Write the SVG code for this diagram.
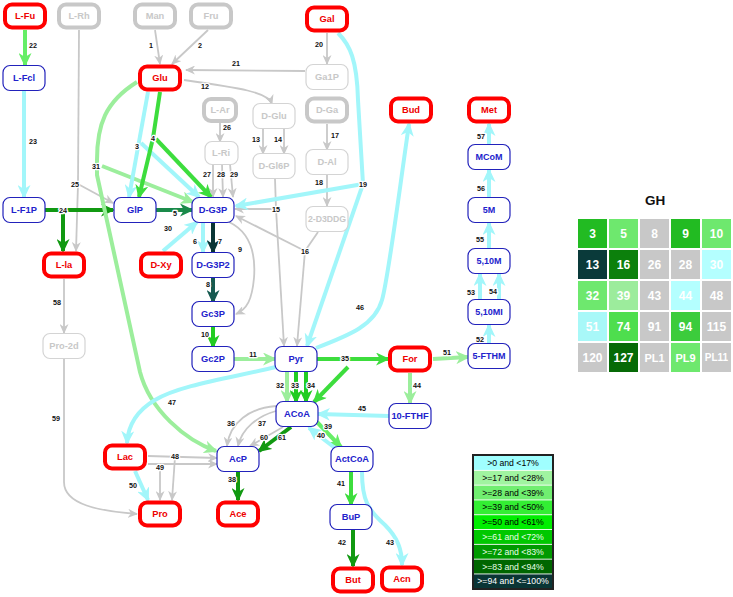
<svg xmlns="http://www.w3.org/2000/svg" width="733" height="597" viewBox="0 0 733 597">
<style>
.r rect{fill:#fff;stroke:#f00;stroke-width:4}
.r text{fill:#e00}
.b rect{fill:#fff;stroke:#2222bb;stroke-width:1.2}
.b text{fill:#2222cc}
.gt rect{fill:#fff;stroke:#c8c8c8;stroke-width:4}
.gn rect{fill:#fff;stroke:#d4d4d4;stroke-width:1.2}
.gt text,.gn text{fill:#c8c8c8}
text{font-family:"Liberation Sans",Arial,sans-serif;font-weight:bold;text-anchor:middle}
.n text{font-size:9.3px}
.lab{font-size:7.2px;fill:#111;stroke:#fff;stroke-width:2.5;paint-order:stroke;stroke-linejoin:round}
.e path{fill:none;stroke-width:4}
.gr{stroke:#c8c8c8!important;stroke-width:1.8!important}
.cy{stroke:#a2f6fa}
.l1{stroke:#9cee9c}
.l2{stroke:#66ee66}
.l3{stroke:#3ddd3d}
.l4{stroke:#22cc22}
.dg{stroke:#119911}
.d5{stroke:#1a8a4a}
.d8{stroke:#165a50}
.d7{stroke:#0a3535}
.hm text{font-size:12px;fill:#fff;dominant-baseline:central}
.lg text{font-size:8.7px;font-weight:normal;dominant-baseline:central}
</style>
<defs>
<marker id="ag" markerUnits="userSpaceOnUse" markerWidth="10" markerHeight="9" refX="9" refY="4.5" orient="auto"><path d="M0,0 L10,4.5 L0,9 L3,4.5 z" fill="#c8c8c8"/></marker>
<marker id="acy" markerUnits="userSpaceOnUse" markerWidth="14" markerHeight="13" refX="12" refY="6.5" orient="auto"><path d="M0,0 L14,6.5 L0,13 L4,6.5 z" fill="#a2f6fa"/></marker>
<marker id="al1" markerUnits="userSpaceOnUse" markerWidth="14" markerHeight="13" refX="12" refY="6.5" orient="auto"><path d="M0,0 L14,6.5 L0,13 L4,6.5 z" fill="#9cee9c"/></marker>
<marker id="al2" markerUnits="userSpaceOnUse" markerWidth="14" markerHeight="13" refX="12" refY="6.5" orient="auto"><path d="M0,0 L14,6.5 L0,13 L4,6.5 z" fill="#66ee66"/></marker>
<marker id="al3" markerUnits="userSpaceOnUse" markerWidth="14" markerHeight="13" refX="12" refY="6.5" orient="auto"><path d="M0,0 L14,6.5 L0,13 L4,6.5 z" fill="#3ddd3d"/></marker>
<marker id="al4" markerUnits="userSpaceOnUse" markerWidth="14" markerHeight="13" refX="12" refY="6.5" orient="auto"><path d="M0,0 L14,6.5 L0,13 L4,6.5 z" fill="#22cc22"/></marker>
<marker id="adg" markerUnits="userSpaceOnUse" markerWidth="14" markerHeight="13" refX="12" refY="6.5" orient="auto"><path d="M0,0 L14,6.5 L0,13 L4,6.5 z" fill="#119911"/></marker>
<marker id="ad5" markerUnits="userSpaceOnUse" markerWidth="14" markerHeight="13" refX="12" refY="6.5" orient="auto"><path d="M0,0 L14,6.5 L0,13 L4,6.5 z" fill="#1a8a4a"/></marker>
<marker id="ad8" markerUnits="userSpaceOnUse" markerWidth="14" markerHeight="13" refX="12" refY="6.5" orient="auto"><path d="M0,0 L14,6.5 L0,13 L4,6.5 z" fill="#165a50"/></marker>
<marker id="ad7" markerUnits="userSpaceOnUse" markerWidth="14" markerHeight="13" refX="12" refY="6.5" orient="auto"><path d="M0,0 L14,6.5 L0,13 L4,6.5 z" fill="#0a3535"/></marker>
</defs>
<rect width="733" height="597" fill="#fff"/>
<g id="edges" class="e">
<path class="gr" d="M155,30 L160,64" marker-end="url(#ag)"/>
<path class="gr" d="M208,30 L172,64" marker-end="url(#ag)"/>
<path class="gr" d="M305,71 L186,70" marker-end="url(#ag)"/>
<path class="gr" d="M184,80 C240,88 268,92 272,104" marker-end="url(#ag)"/>
<path class="gr" d="M327,33 L327,64" marker-end="url(#ag)"/>
<path class="gr" d="M263,128 L263,154" marker-end="url(#ag)"/>
<path class="gr" d="M284,128 L284,154" marker-end="url(#ag)"/>
<path class="gr" d="M327,124 L327,150" marker-end="url(#ag)"/>
<path class="gr" d="M327,174 L327,206" marker-end="url(#ag)"/>
<path class="gr" d="M220,123 L220,142" marker-end="url(#ag)"/>
<path class="gr" d="M213,164 L213,197" marker-end="url(#ag)"/>
<path class="gr" d="M222,164 L223,197" marker-end="url(#ag)"/>
<path class="gr" d="M230,164 L233,197" marker-end="url(#ag)"/>
<path class="gr" d="M275,179 L276,209"/>
<path class="gr" d="M276,209 L235,209" marker-end="url(#ag)"/>
<path class="gr" d="M276,209 L284,346" marker-end="url(#ag)"/>
<path class="gr" d="M318,232 L305,251"/>
<path class="gr" d="M305,251 L236,216" marker-end="url(#ag)"/>
<path class="gr" d="M305,251 L297,346" marker-end="url(#ag)"/>
<path class="gr" d="M229,222 C250,232 256,252 254,278 C252,300 247,309 236,314" marker-end="url(#ag)"/>
<path class="gr" d="M64,279 L64,333" marker-end="url(#ag)"/>
<path class="gr" d="M64,359 L64,482 C64,505 100,511 137,514" marker-end="url(#ag)"/>
<path class="gr" d="M79,30 L78,184"/>
<path class="gr" d="M78,184 L113,203" marker-end="url(#ag)"/>
<path class="gr" d="M78,184 L76,251" marker-end="url(#ag)"/>
<path class="gr" d="M276,406 C250,408 230,422 227,446" marker-end="url(#ag)"/>
<path class="gr" d="M276,411 C258,416 242,428 238,446" marker-end="url(#ag)"/>
<path class="gr" d="M283,427 L250,446" marker-end="url(#ag)"/>
<path class="gr" d="M148,456 L217,458" marker-end="url(#ag)"/>
<path class="gr" d="M175,457 L172,500" marker-end="url(#ag)"/>
<path class="gr" d="M148,464 L217,464" marker-end="url(#ag)"/>
<path class="gr" d="M160,465 L160,500" marker-end="url(#ag)"/>
<path class="l2" d="M25,30 L25,65" marker-end="url(#al2)"/>
<path class="cy" d="M24,91 L24,197" marker-end="url(#acy)"/>
<path class="dg" d="M44,210 L113,210" marker-end="url(#adg)"/>
<path class="dg" d="M63,210 L63,251" marker-end="url(#adg)"/>
<path class="l1" d="M137,82 C105,102 97,125 97,160 L97,175 L140,372 C150,410 185,440 216,451" marker-end="url(#al1)"/>
<path class="l1" d="M102,166 L193,202" marker-end="url(#al1)"/>
<path class="cy" d="M148,92 L129,197" marker-end="url(#acy)"/>
<path class="cy" d="M141,143 L199,197" marker-end="url(#acy)"/>
<path class="l3" d="M160,92 L153,138 L139,197" marker-end="url(#al3)"/>
<path class="l3" d="M156,139 L211,197" marker-end="url(#al3)"/>
<path class="d5" d="M156,210 L192,210" marker-end="url(#ad5)"/>
<path class="cy" d="M163,251 L197,222" marker-end="url(#acy)"/>
<path class="cy" d="M338,33 C350,45 357,60 358,100 L363,184"/>
<path class="cy" d="M363,184 L236,206" marker-end="url(#acy)"/>
<path class="cy" d="M363,184 L307,346" marker-end="url(#acy)"/>
<path class="cy" d="M316,348 C350,335 375,325 382,300 C388,280 398,200 409,124" marker-end="url(#acy)"/>
<path class="cy" d="M203,222 L203,252" marker-end="url(#acy)"/>
<path class="d7" d="M213,222 L213,252" marker-end="url(#ad7)"/>
<path class="d8" d="M213,277 L213,302" marker-end="url(#ad8)"/>
<path class="l4" d="M213,327 L213,347" marker-end="url(#al4)"/>
<path class="l1" d="M234,359 L275,359" marker-end="url(#al1)"/>
<path class="cy" d="M276,367 C230,378 180,385 155,400 C138,410 128,425 127,443" marker-end="url(#acy)"/>
<path class="l3" d="M317,359 L388,359" marker-end="url(#al3)"/>
<path class="l3" d="M348,367 L314,402" marker-end="url(#al3)"/>
<path class="l1" d="M287,372 L287,402" marker-end="url(#al1)"/>
<path class="l4" d="M296,372 L296,402" marker-end="url(#al4)"/>
<path class="l4" d="M306,372 L306,402" marker-end="url(#al4)"/>
<path class="l1" d="M410,373 L410,403" marker-end="url(#al1)"/>
<path class="cy" d="M389,416 L318,414" marker-end="url(#acy)"/>
<path class="l1" d="M433,359 L468,357" marker-end="url(#al1)"/>
<path class="cy" d="M489,343 L489,325" marker-end="url(#acy)"/>
<path class="cy" d="M480,299 L480,274" marker-end="url(#acy)"/>
<path class="cy" d="M499,299 L499,274" marker-end="url(#acy)"/>
<path class="cy" d="M489,248 L489,223" marker-end="url(#acy)"/>
<path class="cy" d="M489,197 L489,170" marker-end="url(#acy)"/>
<path class="cy" d="M489,144 L489,124" marker-end="url(#acy)"/>
<path class="dg" d="M291,427 L259,451" marker-end="url(#adg)"/>
<path class="dg" d="M238,472 L238,500" marker-end="url(#adg)"/>
<path class="l2" d="M316,421 L341,447" marker-end="url(#al2)"/>
<path class="cy" d="M335,448 L309,428" marker-end="url(#acy)"/>
<path class="l3" d="M351,472 L351,505" marker-end="url(#al3)"/>
<path class="dg" d="M353,530 L353,566" marker-end="url(#adg)"/>
<path class="cy" d="M362,472 C362,500 368,510 385,525 C398,538 402,550 402,565" marker-end="url(#acy)"/>
<path class="cy" d="M135,471 L148,500" marker-end="url(#acy)"/>
</g>
<g id="edge-labels">
<text class="lab" x="151" y="48">1</text>
<text class="lab" x="200" y="48">2</text>
<text class="lab" x="236" y="66">21</text>
<text class="lab" x="205" y="89">12</text>
<text class="lab" x="319" y="47">20</text>
<text class="lab" x="256" y="142">13</text>
<text class="lab" x="278" y="142">14</text>
<text class="lab" x="335" y="138">17</text>
<text class="lab" x="319" y="185">18</text>
<text class="lab" x="227" y="130">26</text>
<text class="lab" x="207" y="177">27</text>
<text class="lab" x="221" y="177">28</text>
<text class="lab" x="234" y="177">29</text>
<text class="lab" x="276" y="212">15</text>
<text class="lab" x="305" y="254">16</text>
<text class="lab" x="240" y="252">9</text>
<text class="lab" x="57" y="305">58</text>
<text class="lab" x="56" y="421">59</text>
<text class="lab" x="75" y="187">25</text>
<text class="lab" x="231" y="426">36</text>
<text class="lab" x="262" y="426">37</text>
<text class="lab" x="264" y="440">60</text>
<text class="lab" x="282" y="440">61</text>
<text class="lab" x="175" y="459">48</text>
<text class="lab" x="160" y="470">49</text>
<text class="lab" x="33" y="48">22</text>
<text class="lab" x="33" y="144">23</text>
<text class="lab" x="63" y="213">24</text>
<text class="lab" x="96" y="169">31</text>
<text class="lab" x="137" y="149">3</text>
<text class="lab" x="153" y="141">4</text>
<text class="lab" x="175" y="216">5</text>
<text class="lab" x="168" y="231">30</text>
<text class="lab" x="363" y="187">19</text>
<text class="lab" x="360" y="310">46</text>
<text class="lab" x="195" y="244">6</text>
<text class="lab" x="220" y="244">7</text>
<text class="lab" x="208" y="287">8</text>
<text class="lab" x="205" y="337">10</text>
<text class="lab" x="253" y="357">11</text>
<text class="lab" x="172" y="405">47</text>
<text class="lab" x="345" y="361">35</text>
<text class="lab" x="280" y="388">32</text>
<text class="lab" x="295" y="388">33</text>
<text class="lab" x="311" y="388">34</text>
<text class="lab" x="417" y="388">44</text>
<text class="lab" x="362" y="411">45</text>
<text class="lab" x="447" y="355">51</text>
<text class="lab" x="480" y="342">52</text>
<text class="lab" x="471" y="295">53</text>
<text class="lab" x="493" y="294">54</text>
<text class="lab" x="480" y="242">55</text>
<text class="lab" x="481" y="191">56</text>
<text class="lab" x="481" y="139">57</text>
<text class="lab" x="232" y="482">38</text>
<text class="lab" x="328" y="429">39</text>
<text class="lab" x="321" y="438">40</text>
<text class="lab" x="341" y="486">41</text>
<text class="lab" x="342" y="545">42</text>
<text class="lab" x="390" y="545">43</text>
<text class="lab" x="133" y="488">50</text>
</g>
<g id="L-Fu" class="n r"><rect x="5" y="4.5" width="40" height="23" rx="7"/><text x="25" y="19.3">L-Fu</text></g>
<g id="Glu" class="n r"><rect x="140" y="66.5" width="40" height="23" rx="7"/><text x="160" y="81.3">Glu</text></g>
<g id="Gal" class="n r"><rect x="307" y="7.5" width="40" height="23" rx="7"/><text x="327" y="22.3">Gal</text></g>
<g id="Bud" class="n r"><rect x="391" y="98.5" width="40" height="23" rx="7"/><text x="411" y="113.3">Bud</text></g>
<g id="Met" class="n r"><rect x="469" y="98.5" width="40" height="23" rx="7"/><text x="489" y="113.3">Met</text></g>
<g id="L-la" class="n r"><rect x="44" y="253.5" width="40" height="23" rx="7"/><text x="64" y="268.3">L-la</text></g>
<g id="D-Xy" class="n r"><rect x="141" y="253.5" width="40" height="23" rx="7"/><text x="161" y="268.3">D-Xy</text></g>
<g id="For" class="n r"><rect x="390" y="347.5" width="40" height="23" rx="7"/><text x="410" y="362.3">For</text></g>
<g id="Lac" class="n r"><rect x="105" y="445.5" width="40" height="23" rx="7"/><text x="125" y="460.3">Lac</text></g>
<g id="Pro" class="n r"><rect x="140" y="502.5" width="40" height="23" rx="7"/><text x="160" y="517.3">Pro</text></g>
<g id="Ace" class="n r"><rect x="218" y="502.5" width="40" height="23" rx="7"/><text x="238" y="517.3">Ace</text></g>
<g id="But" class="n r"><rect x="333" y="568.5" width="40" height="23" rx="7"/><text x="353" y="583.3">But</text></g>
<g id="Acn" class="n r"><rect x="382" y="567.5" width="40" height="23" rx="7"/><text x="402" y="582.3">Acn</text></g>
<g id="L-Rh" class="n gt"><rect x="59" y="4.5" width="40" height="23" rx="7"/><text x="79" y="19.3">L-Rh</text></g>
<g id="Man" class="n gt"><rect x="135" y="4.5" width="40" height="23" rx="7"/><text x="155" y="19.3">Man</text></g>
<g id="Fru" class="n gt"><rect x="191" y="4.5" width="40" height="23" rx="7"/><text x="211" y="19.3">Fru</text></g>
<g id="D-Ga" class="n gt"><rect x="307" y="98.5" width="40" height="23" rx="7"/><text x="327" y="113.3">D-Ga</text></g>
<g id="L-Ar" class="n gt"><rect x="204" y="99" width="32" height="22" rx="7"/><text x="220" y="113.3">L-Ar</text></g>
<g id="Ga1P" class="n gn"><rect x="306" y="64.5" width="42" height="25" rx="7"/><text x="327" y="80.3">Ga1P</text></g>
<g id="D-Glu" class="n gn"><rect x="253" y="103.5" width="42" height="25" rx="7"/><text x="274" y="119.3">D-Glu</text></g>
<g id="L-Ri" class="n gn"><rect x="205" y="141.5" width="33" height="23" rx="7"/><text x="221" y="156.3">L-Ri</text></g>
<g id="D-Gl6P" class="n gn"><rect x="253" y="153.5" width="42" height="25" rx="7"/><text x="274" y="169.3">D-Gl6P</text></g>
<g id="D-Al" class="n gn"><rect x="306" y="149.5" width="42" height="25" rx="7"/><text x="327" y="165.3">D-Al</text></g>
<g id="2-D3DDG" class="n gn"><rect x="306" y="206.5" width="42" height="25" rx="7"/><text x="327" y="222" style="font-size:8.7px">2-D3DDG</text></g>
<g id="Pro-2d" class="n gn"><rect x="43" y="333.5" width="42" height="25" rx="7"/><text x="64" y="349.3">Pro-2d</text></g>
<g id="L-Fcl" class="n b"><rect x="3" y="65.5" width="42" height="25" rx="7"/><text x="24" y="81.3">L-Fcl</text></g>
<g id="L-F1P" class="n b"><rect x="3" y="197.5" width="42" height="25" rx="7"/><text x="24" y="213.3">L-F1P</text></g>
<g id="GlP" class="n b"><rect x="114" y="197.5" width="42" height="25" rx="7"/><text x="135" y="213.3">GlP</text></g>
<g id="D-G3P" class="n b"><rect x="192" y="197.5" width="42" height="25" rx="7"/><text x="213" y="213.3">D-G3P</text></g>
<g id="D-G3P2" class="n b"><rect x="192" y="252.5" width="42" height="25" rx="7"/><text x="213" y="268.3">D-G3P2</text></g>
<g id="Gc3P" class="n b"><rect x="192" y="301.5" width="42" height="25" rx="7"/><text x="213" y="317.3">Gc3P</text></g>
<g id="Gc2P" class="n b"><rect x="192" y="346.5" width="42" height="25" rx="7"/><text x="213" y="362.3">Gc2P</text></g>
<g id="Pyr" class="n b"><rect x="275" y="346.5" width="42" height="25" rx="7"/><text x="296" y="362.3">Pyr</text></g>
<g id="ACoA" class="n b"><rect x="276" y="401.5" width="42" height="25" rx="7"/><text x="297" y="417.3">ACoA</text></g>
<g id="10-FTHF" class="n b"><rect x="389" y="403.5" width="42" height="25" rx="7"/><text x="410" y="419.3">10-FTHF</text></g>
<g id="AcP" class="n b"><rect x="217" y="446.5" width="42" height="25" rx="7"/><text x="238" y="462.3">AcP</text></g>
<g id="ActCoA" class="n b"><rect x="331" y="446.5" width="42" height="25" rx="7"/><text x="352" y="462.3">ActCoA</text></g>
<g id="BuP" class="n b"><rect x="330" y="504.5" width="42" height="25" rx="7"/><text x="351" y="520.3">BuP</text></g>
<g id="MCoM" class="n b"><rect x="468" y="144.5" width="42" height="25" rx="7"/><text x="489" y="160.2" style="font-size:9px">MCoM</text></g>
<g id="5M" class="n b"><rect x="468" y="197.5" width="42" height="25" rx="7"/><text x="489" y="213.2" style="font-size:9px">5M</text></g>
<g id="5,10M" class="n b"><rect x="468" y="248.5" width="42" height="25" rx="7"/><text x="489" y="264.2" style="font-size:9px">5,10M</text></g>
<g id="5,10MI" class="n b"><rect x="468" y="299.5" width="42" height="25" rx="7"/><text x="489" y="315.2" style="font-size:9px">5,10MI</text></g>
<g id="5-FTHM" class="n b"><rect x="468" y="343.5" width="42" height="25" rx="7"/><text x="489" y="359.2" style="font-size:9px">5-FTHM</text></g>
<g id="heatmap" class="hm">
<text x="655" y="200" style="font-size:13.5px;fill:#111">GH</text>
<rect x="578" y="219" width="29" height="29" fill="#22bb22"/><text x="592.5" y="233.5">3</text>
<rect x="609" y="219" width="29" height="29" fill="#6ee86e"/><text x="623.5" y="233.5">5</text>
<rect x="640" y="219" width="29" height="29" fill="#c8c8c8"/><text x="654.5" y="233.5">8</text>
<rect x="671" y="219" width="29" height="29" fill="#22bb22"/><text x="685.5" y="233.5">9</text>
<rect x="702" y="219" width="29" height="29" fill="#6ee86e"/><text x="716.5" y="233.5">10</text>
<rect x="578" y="250" width="29" height="29" fill="#0a3a3a"/><text x="592.5" y="264.5">13</text>
<rect x="609" y="250" width="29" height="29" fill="#0c800c"/><text x="623.5" y="264.5">16</text>
<rect x="640" y="250" width="29" height="29" fill="#c8c8c8"/><text x="654.5" y="264.5">26</text>
<rect x="671" y="250" width="29" height="29" fill="#c8c8c8"/><text x="685.5" y="264.5">28</text>
<rect x="702" y="250" width="29" height="29" fill="#b4ffff"/><text x="716.5" y="264.5">30</text>
<rect x="578" y="281" width="29" height="29" fill="#6ee86e"/><text x="592.5" y="295.5">32</text>
<rect x="609" y="281" width="29" height="29" fill="#9cec9c"/><text x="623.5" y="295.5">39</text>
<rect x="640" y="281" width="29" height="29" fill="#c8c8c8"/><text x="654.5" y="295.5">43</text>
<rect x="671" y="281" width="29" height="29" fill="#b4ffff"/><text x="685.5" y="295.5">44</text>
<rect x="702" y="281" width="29" height="29" fill="#c8c8c8"/><text x="716.5" y="295.5">48</text>
<rect x="578" y="312" width="29" height="29" fill="#a8f8f8"/><text x="592.5" y="326.5">51</text>
<rect x="609" y="312" width="29" height="29" fill="#4ede4e"/><text x="623.5" y="326.5">74</text>
<rect x="640" y="312" width="29" height="29" fill="#c8c8c8"/><text x="654.5" y="326.5">91</text>
<rect x="671" y="312" width="29" height="29" fill="#3ccc3c"/><text x="685.5" y="326.5">94</text>
<rect x="702" y="312" width="29" height="29" fill="#c8c8c8"/><text x="716.5" y="326.5">115</text>
<rect x="578" y="343" width="29" height="29" fill="#c8c8c8"/><text x="592.5" y="357.5">120</text>
<rect x="609" y="343" width="29" height="29" fill="#066a06"/><text x="623.5" y="357.5">127</text>
<rect x="640" y="343" width="29" height="29" fill="#c8c8c8"/><text x="654.5" y="357.5" style="font-size:11px">PL1</text>
<rect x="671" y="343" width="29" height="29" fill="#6ee86e"/><text x="685.5" y="357.5" style="font-size:11px">PL9</text>
<rect x="702" y="343" width="29" height="29" fill="#c8c8c8"/><text x="716.5" y="357.5" style="font-size:10px">PL11</text>
</g>
<g id="legend" class="lg">
<rect x="473" y="455" width="80" height="134" fill="#fff" stroke="#222" stroke-width="2"/>
<rect x="474" y="456" width="78" height="13.9" fill="#a0ffff"/>
<rect x="474" y="470.8" width="78" height="13.9" fill="#a0f4a0"/>
<rect x="474" y="485.6" width="78" height="13.9" fill="#70ee70"/>
<rect x="474" y="500.4" width="78" height="13.9" fill="#33ee33"/>
<rect x="474" y="515.2" width="78" height="13.9" fill="#00ee00"/>
<rect x="474" y="530" width="78" height="13.9" fill="#00c800"/>
<rect x="474" y="544.8" width="78" height="13.9" fill="#009a00"/>
<rect x="474" y="559.6" width="78" height="13.9" fill="#006600"/>
<rect x="474" y="574.4" width="78" height="13.6" fill="#0a3535"/>
<text x="513" y="463">&gt;0 and &lt;17%</text>
<text x="513" y="477.8">&gt;=17 and &lt;28%</text>
<text x="513" y="492.6">&gt;=28 and &lt;39%</text>
<text x="513" y="507.4">&gt;=39 and &lt;50%</text>
<text x="513" y="522.2">&gt;=50 and &lt;61%</text>
<text x="513" y="537" fill="#e8ffe8">&gt;=61 and &lt;72%</text>
<text x="513" y="551.8" fill="#e8ffe8">&gt;=72 and &lt;83%</text>
<text x="513" y="566.6" fill="#e8ffe8">&gt;=83 and &lt;94%</text>
<text x="513" y="581.2" fill="#fff">&gt;=94 and &lt;=100%</text>
</g>
</svg>
